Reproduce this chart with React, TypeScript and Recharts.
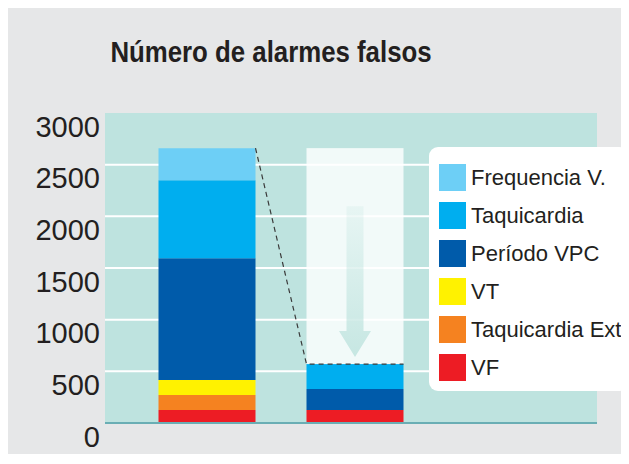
import React from 'react'
import {
  BarChart,
  Bar,
  XAxis,
  YAxis,
  CartesianGrid,
  ReferenceLine,
} from 'recharts'

// data
const categories = ['Antes', 'Depois']

const vf = [125, 125]
const taquicardiaExt = [145, 0]
const vt = [145, 0]
const periodoVpc = [1180, 205]
const taquicardia = [755, 240]
const frequenciaV = [310, 0]

// alarms removed (ghost part of the second bar)
const reducao = [0, 2090]

const yTicks = [0, 500, 1000, 1500, 2000, 2500, 3000]

// bottom -> top stack order
const series = [
  { key: 'vf', name: 'VF', values: vf, color: '#ed1c24' },
  { key: 'taquicardiaExt', name: 'Taquicardia Ext', values: taquicardiaExt, color: '#f58220' },
  { key: 'vt', name: 'VT', values: vt, color: '#fff200' },
  { key: 'periodoVpc', name: 'Período VPC', values: periodoVpc, color: '#005baa' },
  { key: 'taquicardia', name: 'Taquicardia', values: taquicardia, color: '#00aeef' },
  { key: 'frequenciaV', name: 'Frequencia V.', values: frequenciaV, color: '#6dcff6' },
]

const data = categories.map((name, i) => {
  const row: any = { name, reducao: reducao[i] }
  series.forEach((s) => {
    row[s.key] = s.values[i]
  })
  return row
})

const FONT = "'Liberation Sans', Arial, Helvetica, sans-serif"
const TEXT = '#231f20'
const BAR_GAP = 51

function YTick(props: any) {
  const { y, payload } = props
  return (
    <text
      x={92}
      y={y + 23.5}
      textAnchor="end"
      fontSize={29}
      fontFamily={FONT}
      fill={TEXT}
    >
      {payload.value}
    </text>
  )
}

function GhostBar(props: any) {
  const { x, y, width, height } = props
  if (!height || height <= 0) return <g />

  const cx = x + width / 2
  const bottom = y + height
  const shaftTop = y + 58
  const headTop = bottom - 33
  const tip = bottom - 7

  return (
    <g>
      <defs>
        <linearGradient id="arrowGrad" x1="0" y1="0" x2="0" y2="1">
          <stop offset="0%" stopColor="#a9dad3" stopOpacity={0.15} />
          <stop offset="100%" stopColor="#a9dad3" stopOpacity={0.6} />
        </linearGradient>
      </defs>

      <rect x={x} y={y} width={width} height={height} fill="#ffffff" fillOpacity={0.8} />

      <path
        d={`M${cx - 8.5},${shaftTop} L${cx + 8.5},${shaftTop} L${cx + 8.5},${headTop} L${cx + 16},${headTop} L${cx},${tip} L${cx - 16},${headTop} L${cx - 8.5},${headTop} Z`}
        fill="url(#arrowGrad)"
      />

      {/* dashed guide from first bar top down to the second */}
      <polyline
        points={`${x - BAR_GAP},${y} ${x},${bottom} ${x + width},${bottom}`}
        fill="none"
        stroke="#3a3a3a"
        strokeWidth={1.2}
        strokeDasharray="5 4"
      />
    </g>
  )
}

function LegendBox() {
  return (
    <div
      style={{
        position: 'absolute',
        left: 421,
        top: 139,
        width: 199,
        boxSizing: 'border-box',
        padding: '17px 0 10px 10px',
        background: '#ffffff',
        borderRadius: 9,
        fontFamily: FONT,
        fontSize: 22,
        color: TEXT,
      }}
    >
      {[...series].reverse().map((s, i) => (
        <div
          key={s.key}
          style={{
            display: 'flex',
            alignItems: 'center',
            height: 27,
            marginTop: i === 0 ? 0 : 11,
          }}
        >
          <div
            style={{
              width: 27,
              height: 27,
              background: s.color,
              marginRight: 5,
              flexShrink: 0,
            }}
          />
          <span style={{ whiteSpace: 'nowrap' }}>{s.name}</span>
        </div>
      ))}
    </div>
  )
}

export default function App() {
  return (
    <div
      style={{
        position: 'relative',
        width: 621,
        height: 446,
        background: '#e6e7e8',
      }}
    >
      {/* title */}
      <div
        style={{
          position: 'absolute',
          left: 62.5,
          top: 29,
          width: 400,
          textAlign: 'center',
          fontFamily: FONT,
          fontWeight: 'bold',
          fontSize: 30,
          lineHeight: '30px',
          color: TEXT,
          transform: 'scaleX(0.86)',
          whiteSpace: 'nowrap',
        }}
      >
        Número de alarmes falsos
      </div>

      <BarChart
        width={621}
        height={446}
        data={data}
        margin={{ top: 105, right: 32, bottom: 31, left: 0 }}
      >
        <CartesianGrid
          vertical={false}
          fill="#bee3df"
          stroke="#ffffff"
          strokeWidth={2}
          horizontalValues={[500, 1000, 1500, 2000, 2500]}
        />

        <XAxis
          dataKey="name"
          hide
          padding={{ left: 27.5, right: 168.5 }}
        />

        <YAxis
          width={97}
          domain={[0, 3000]}
          ticks={yTicks}
          axisLine={false}
          tickLine={false}
          tick={<YTick />}
          interval={0}
        />

        {series.map((s) => (
          <Bar
            key={s.key}
            dataKey={s.key}
            name={s.name}
            stackId="a"
            fill={s.color}
            barSize={97}
            isAnimationActive={false}
          />
        ))}

        <Bar
          dataKey="reducao"
          stackId="a"
          barSize={97}
          shape={<GhostBar />}
          isAnimationActive={false}
        />

        <ReferenceLine y={0} stroke="#6aaeb4" strokeWidth={2} />
      </BarChart>

      <LegendBox />
    </div>
  )
}
